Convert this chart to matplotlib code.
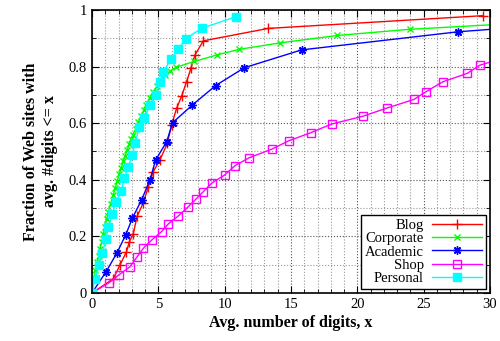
import numpy as np
import matplotlib
matplotlib.use("Agg")
import matplotlib.pyplot as plt
from matplotlib.ticker import MultipleLocator

plt.rcParams['font.family'] = ['Liberation Serif', 'DejaVu Serif']

# data (x = avg. number of digits, y = cumulative fraction)
blog_x = [0, 1.6, 2.11, 2.6, 2.81, 3.11, 3.41, 3.87, 4.25, 4.62, 5.12, 5.68, 6.0, 6.38,
          6.76, 7.13, 7.46, 7.76, 8.39, 13.3, 29.5]
blog_y = [0, 0.05, 0.099, 0.146, 0.18, 0.21, 0.272, 0.319, 0.376, 0.429, 0.47, 0.529,
          0.594, 0.653, 0.696, 0.747, 0.794, 0.841, 0.891, 0.935, 0.98]

corp_x = [0, 0.15, 0.25, 0.4, 0.5, 0.6, 0.73, 0.85, 0.98, 1.1, 1.23, 1.4, 1.6, 1.75,
          1.9, 2.05, 2.2, 2.35, 2.5, 2.65, 2.8, 2.95, 3.1, 3.3, 3.5, 3.7, 3.9, 4.1,
          4.35, 4.6, 4.9, 5.2, 5.5, 5.9, 6.3, 7.7, 9.4, 11.1, 14.2, 18.5, 24.0, 31.0]
corp_y = [0, 0.05, 0.08, 0.11, 0.13, 0.155, 0.18, 0.21, 0.234, 0.26, 0.287, 0.315,
          0.346, 0.37, 0.395, 0.42, 0.44, 0.465, 0.485, 0.505, 0.525, 0.545, 0.56,
          0.58, 0.605, 0.625, 0.645, 0.665, 0.69, 0.71, 0.73, 0.75, 0.77, 0.785,
          0.797, 0.818, 0.841, 0.861, 0.884, 0.91, 0.932, 0.95]

acad_x = [0, 1.06, 1.86, 2.54, 3.04, 3.74, 4.37, 4.8, 5.63, 6.08, 7.56, 9.32, 11.48,
          15.8, 27.6, 31.0]
acad_y = [0, 0.075, 0.14, 0.205, 0.264, 0.329, 0.4, 0.47, 0.535, 0.602, 0.664, 0.733,
          0.796, 0.859, 0.923, 0.935]

shop_x = [0, 1.28, 2.03, 2.86, 3.37, 3.87, 4.5, 5.25, 5.75, 6.5, 7.26, 7.84, 8.39,
          9.02, 10.0, 10.78, 11.85, 13.54, 14.84, 16.47, 18.06, 20.45, 22.2, 24.27,
          25.17, 26.43, 28.28, 29.24, 31.0]
shop_y = [0, 0.036, 0.064, 0.093, 0.126, 0.158, 0.187, 0.217, 0.244, 0.272, 0.305,
          0.332, 0.358, 0.388, 0.417, 0.45, 0.478, 0.508, 0.538, 0.566, 0.597, 0.625,
          0.653, 0.684, 0.711, 0.746, 0.776, 0.805, 0.83]

pers_x = [0, 0.23, 0.55, 0.78, 1.06, 1.23, 1.53, 1.81, 2.2, 2.43, 2.74, 3.04, 3.24,
          3.57, 3.94, 4.37, 4.82, 5.12, 5.37, 5.93, 6.5, 7.08, 8.26, 10.83]
pers_y = [0, 0.05, 0.1, 0.14, 0.19, 0.234, 0.278, 0.323, 0.361, 0.405, 0.446, 0.488,
          0.529, 0.585, 0.62, 0.664, 0.70, 0.744, 0.78, 0.826, 0.861, 0.899, 0.935, 0.976]

fig = plt.figure(figsize=(5, 3.41), dpi=100)
ax = fig.add_axes([0.184, 0.1408, 0.796, 0.8299])

ax.plot(blog_x, blog_y, color='#ff0000', marker='+', ms=7, mew=1, lw=1, label='Blog')
ax.plot(corp_x, corp_y, color='#00ff00', marker='x', ms=5, mew=1, lw=1, label='Corporate')
ax.plot(acad_x, acad_y, color='#0000ff', marker=(8, 2, 0), ms=6, mew=1, lw=1, label='Academic')
ax.plot(shop_x, shop_y, color='#ff00ff', marker='s', ms=6, mfc='none', mew=1, lw=1, label='Shop')
ax.plot(pers_x, pers_y, color='#00ffff', marker='s', ms=5.5, lw=1, label='Personal')

ax.set_xlim(0, 30)
ax.set_ylim(0, 1)
ax.xaxis.set_major_locator(MultipleLocator(5))
ax.xaxis.set_minor_locator(MultipleLocator(1))
ax.yaxis.set_major_locator(MultipleLocator(0.2))
ax.yaxis.set_minor_locator(MultipleLocator(0.1))
ax.set_yticks([0, 0.2, 0.4, 0.6, 0.8, 1])
ax.set_yticklabels(['0', '0.2', '0.4', '0.6', '0.8', '1'])
ax.grid(True, which='major', color='#555555', linestyle=':', linewidth=0.8)
ax.grid(True, which='minor', color='#999999', linestyle=':', linewidth=0.8)
ax.tick_params(which='both', direction='in', top=True, right=True, labelsize=10.5)
ax.tick_params(which='major', length=5)
ax.tick_params(which='minor', length=3)
ax.set_axisbelow(True)
for s in ax.spines.values():
    s.set_linewidth(1.2)

ax.set_xlabel('Avg. number of digits, x', fontsize=11.5, fontweight='bold', labelpad=3)
ax.set_ylabel('Fraction of Web sites with\navg. #digits <= x', fontsize=11.5,
              fontweight='bold', labelpad=8)

leg = ax.legend(loc='lower right', markerfirst=False, fontsize=10.5, fancybox=False,
                framealpha=1, edgecolor='black', handlelength=3.4, borderpad=0.25,
                labelspacing=0.0, handletextpad=0.6, borderaxespad=0.3)
leg.get_frame().set_linewidth(1.0)

fig.savefig('out.png', dpi=100)
